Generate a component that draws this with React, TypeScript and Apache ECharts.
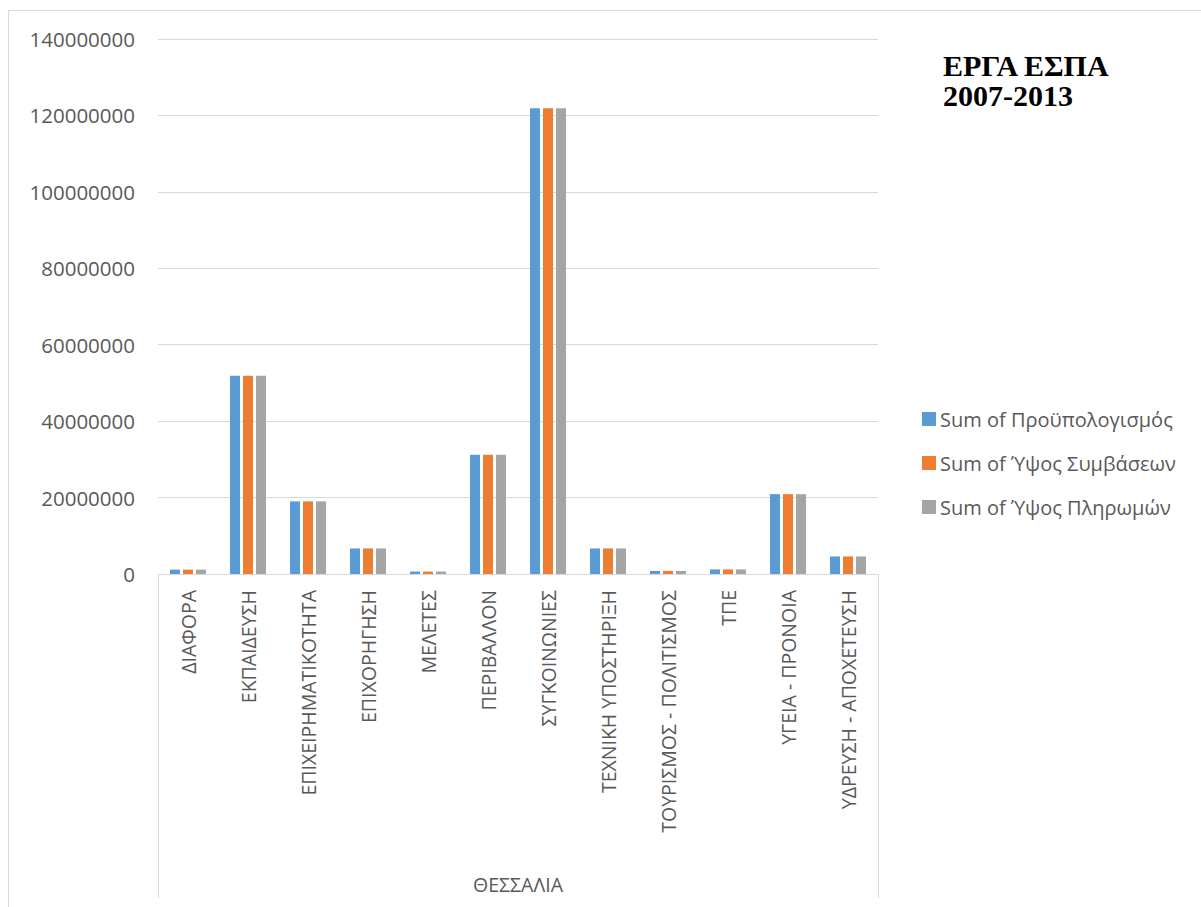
import React, { useEffect, useRef } from "react";
import * as echarts from "echarts";

const categories = [
  "ΔΙΑΦΟΡΑ",
  "ΕΚΠΑΙΔΕΥΣΗ",
  "ΕΠΙΧΕΙΡΗΜΑΤΙΚΟΤΗΤΑ",
  "ΕΠΙΧΟΡΗΓΗΣΗ",
  "ΜΕΛΕΤΕΣ",
  "ΠΕΡΙΒΑΛΛΟΝ",
  "ΣΥΓΚΟΙΝΩΝΙΕΣ",
  "ΤΕΧΝΙΚΗ ΥΠΟΣΤΗΡΙΞΗ",
  "ΤΟΥΡΙΣΜΟΣ - ΠΟΛΙΤΙΣΜΟΣ",
  "ΤΠΕ",
  "ΥΓΕΙΑ - ΠΡΟΝΟΙΑ",
  "ΥΔΡΕΥΣΗ - ΑΠΟΧΕΤΕΥΣΗ",
];
const region = ["ΘΕΣΣΑΛΙΑ"];

const budget = [1150000, 51900000, 19000000, 6700000, 650000, 31200000, 121900000, 6700000, 800000, 1200000, 20900000, 4600000];
const contracts = [1150000, 51900000, 19000000, 6700000, 650000, 31200000, 121900000, 6700000, 800000, 1200000, 20900000, 4600000];
const payments = [1150000, 51900000, 19000000, 6700000, 650000, 31200000, 121900000, 6700000, 800000, 1200000, 20900000, 4600000];

const seriesNames = ["Sum of Προϋπολογισμός", "Sum of Ύψος Συμβάσεων", "Sum of Ύψος Πληρωμών"];
const colors = ["#5B9BD5", "#ED7D31", "#A5A5A5"];
const titleLines = ["ΕΡΓΑ ΕΣΠΑ", "2007-2013"];

const FONT = "'Open Sans', 'Noto Sans', sans-serif";

export default function App() {
  const ref = useRef<HTMLDivElement>(null);
  useEffect(() => {
    document.body.style.margin = "0";
    const chart = echarts.init(ref.current!, null, { renderer: "svg" });
    const data = [budget, contracts, payments];
    chart.setOption({
      animation: false,
      backgroundColor: "#ffffff",
      color: colors,
      grid: { left: 158, right: 323, top: 39, bottom: 333, containLabel: false },
      legend: {
        orient: "vertical",
        left: 917,
        top: 404,
        itemWidth: 14,
        itemHeight: 14,
        itemGap: 24,
        icon: "rect",
        textStyle: { fontFamily: FONT, fontSize: 20, color: "#595959", padding: [0, 0, 0, -1] },
        data: seriesNames,
      },
      xAxis: [
        {
          type: "category",
          data: categories,
          position: "bottom",
          axisLine: { show: true, lineStyle: { color: "#d9d9d9", width: 1 } },
          axisTick: { show: false },
          axisLabel: {
            rotate: 90,
            margin: 16,
            interval: 0,
            fontFamily: FONT,
            fontSize: 19.5,
            color: "#595959",
          },
        },
        {
          type: "category",
          data: region,
          position: "bottom",
          axisLine: { show: false },
          axisTick: { show: true, length: 324, lineStyle: { color: "#d9d9d9", width: 1 } },
          axisLabel: { margin: 300, fontFamily: FONT, fontSize: 19.5, color: "#595959" },
        },
      ],
      yAxis: {
        type: "value",
        min: 0,
        max: 140000000,
        interval: 20000000,
        axisLine: { show: false },
        axisTick: { show: false },
        splitLine: { lineStyle: { color: "#d9d9d9", width: 1 } },
        axisLabel: {
          margin: 23,
          fontFamily: FONT,
          fontSize: 20.5,
          color: "#595959",
          formatter: (v: number) => String(v),
        },
      },
      series: seriesNames.map((name, i) => ({
        name,
        type: "bar",
        xAxisIndex: 0,
        data: data[i],
        barWidth: 10,
        barGap: "30%",
        itemStyle: { color: colors[i] },
      })),
      graphic: [
        {
          type: "rect",
          shape: { x: 8.5, y: 10.5, width: 1400, height: 1200 },
          style: { fill: "none", stroke: "#d9d9d9", lineWidth: 1 },
          silent: true,
        },
        {
          type: "text",
          x: 943,
          y: 65,
          style: {
            text: titleLines[0],
            font: "bold 30px 'Liberation Serif', 'Times New Roman', serif",
            fill: "#000000",
            verticalAlign: "middle",
          },
        },
        {
          type: "text",
          x: 943,
          y: 95,
          style: {
            text: titleLines[1],
            font: "bold 30px 'Liberation Serif', 'Times New Roman', serif",
            fill: "#000000",
            verticalAlign: "middle",
          },
        },
      ],
    });
    return () => chart.dispose();
  }, []);
  return <div ref={ref} style={{ width: 1201, height: 907 }} />;
}
